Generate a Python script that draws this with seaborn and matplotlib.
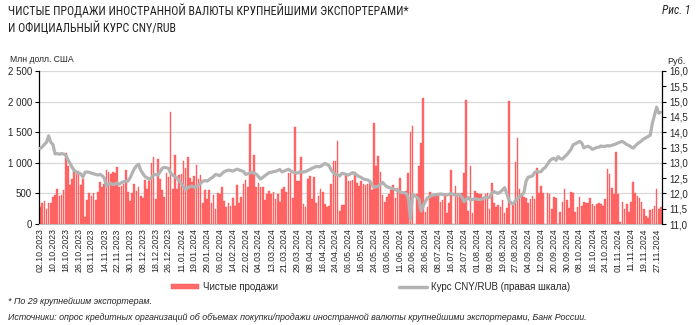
import numpy as np
import pandas as pd
import matplotlib
matplotlib.use("Agg")
import matplotlib.pyplot as plt
from matplotlib import font_manager
from matplotlib.patches import Patch
from matplotlib.lines import Line2D
from matplotlib.ticker import FuncFormatter, MultipleLocator
import seaborn as sns

# ---------------- data ----------------
SALES = [
    270, 340, 370, 240, 340, 350, 440, 480, 580, 460,
    470, 550, 1160, 940, 630, 740, 870, 850, 860, 640,
    740, 120, 400, 500, 460, 500, 400, 520, 690, 600,
    650, 880, 850, 820, 850, 840, 930, 600, 620, 650,
    880, 520, 380, 500, 650, 540, 600, 460, 430, 720,
    580, 700, 1000, 1100, 410, 1060, 730, 560, 440, 840,
    770, 1830, 580, 1120, 570, 800, 820, 1030, 910, 1090,
    750, 680, 790, 970, 730, 800, 340, 550, 410, 550,
    350, 470, 250, 510, 490, 610, 370, 280, 340, 300,
    420, 290, 630, 340, 440, 650, 720, 600, 1640, 870,
    1130, 610, 675, 600, 600, 390, 485, 545, 485, 530,
    405, 485, 355, 565, 610, 515, 830, 830, 420, 1580,
    700, 700, 1100, 330, 285, 730, 790, 415, 765, 350,
    460, 565, 515, 330, 285, 295, 650, 1030, 1030, 1360,
    220, 305, 315, 790, 710, 700, 720, 855, 665, 620,
    710, 655, 645, 650, 700, 555, 1650, 940, 1110, 855,
    475, 365, 445, 490, 555, 640, 420, 585, 745, 490,
    490, 540, 840, 1500, 1600, -20, 485, 955, 1320, 2060,
    200, 285, 530, 445, 490, 475, 490, 355, 390, 460,
    185, 350, 880, -40, 620, 500, 485, 500, 840, 2030,
    220, 950, 175, 545, 510, 490, 490, 420, 490, 510,
    240, 675, 350, 285, 310, 285, 390, 185, 265, 2010,
    -40, 340, 1020, 1410, 565, 490, 435, 420, 340, 405,
    460, 410, 920, 500, 620, 500, -20, 500, 490, 245,
    445, 420, -20, 195, 365, 565, 390, 265, 525, 510,
    200, 285, 435, 295, 365, 340, 340, 420, 325, 300,
    325, 340, 320, 300, 405, 900, 810, 585, 485, 1170,
    485, 30, 355, 245, 320, 190, 355, 690, 510, 460,
    420, 360, 250, 130, 100, 230, 250, 290, 580, 240, 270,
]

CNY_RUB = [
    13.47, 13.52, 13.60, 13.67, 13.88, 13.67, 13.60, 13.29, 13.30, 13.28,
    13.30, 13.29, 13.25, 13.10, 12.98, 12.85, 12.74, 12.70, 12.66, 12.64,
    12.53, 12.69, 12.70, 12.69, 12.66, 12.64, 12.62, 12.60, 12.62, 12.58,
    12.50, 12.24, 12.30, 12.33, 12.29, 12.30, 12.34, 12.30, 12.35, 12.38,
    12.40, 12.40, 12.50, 12.66, 12.80, 12.90, 12.95, 12.76, 12.65, 12.55,
    12.51, 12.46, 12.52, 12.60, 12.62, 12.60, 12.70, 12.82, 12.85, 12.84,
    12.82, 12.66, 12.60, 12.55, 12.50, 12.40, 12.33, 12.22, 12.13, 12.18,
    12.22, 12.24, 12.20, 12.22, 12.27, 12.33, 12.40, 12.42, 12.40, 12.45,
    12.50, 12.55, 12.62, 12.60, 12.58, 12.65, 12.71, 12.74, 12.76, 12.75,
    12.73, 12.76, 12.79, 12.77, 12.74, 12.72, 12.62, 12.64, 12.67, 12.69,
    12.66, 12.63, 12.55, 12.47, 12.52, 12.58, 12.63, 12.68, 12.69, 12.71,
    12.72, 12.75, 12.78, 12.70, 12.73, 12.76, 12.79, 12.74, 12.70, 12.68,
    12.66, 12.69, 12.71, 12.70, 12.71, 12.75, 12.78, 12.82, 12.85, 12.88,
    12.87, 12.88, 12.93, 12.98, 12.95, 12.90, 12.76, 12.68, 12.62, 12.60,
    12.57, 12.66, 12.64, 12.62, 12.60, 12.64, 12.68, 12.64, 12.60, 12.55,
    12.52, 12.47, 12.45, 12.44, 12.40, 12.30, 12.20, 12.22, 12.23, 12.30,
    12.36, 12.28, 12.22, 12.19, 12.17, 12.15, 12.12, 12.10, 12.05, 12.03,
    12.02, 12.00, 11.85, 11.15, 11.98, 11.92, 11.88, 11.80, 11.42, 11.60,
    11.75, 11.85, 11.90, 11.93, 11.95, 11.96, 11.97, 11.98, 11.97, 11.96,
    11.95, 11.97, 12.00, 11.97, 11.93, 11.96, 11.97, 11.88, 11.73, 11.80,
    11.87, 11.78, 11.80, 11.83, 11.81, 11.80, 11.80, 11.84, 11.87, 11.86,
    11.87, 12.02, 12.06, 12.02, 12.00, 12.05, 12.11, 12.19, 12.00, 11.78,
    11.68, 11.65, 11.76, 11.82, 11.90, 11.95, 12.02, 12.40, 12.53, 12.55,
    12.57, 12.68, 12.72, 12.70, 12.71, 12.80, 12.85, 12.95, 13.06, 13.12,
    13.15, 13.08, 13.20, 13.14, 13.12, 13.20, 13.26, 13.35, 13.44, 13.59,
    13.62, 13.66, 13.70, 13.65, 13.49, 13.52, 13.54, 13.50, 13.44, 13.47,
    13.50, 13.51, 13.55, 13.53, 13.54, 13.56, 13.55, 13.57, 13.59, 13.62,
    13.65, 13.68, 13.70, 13.65, 13.60, 13.57, 13.52, 13.48, 13.55, 13.62,
    13.67, 13.72, 13.78, 13.82, 13.86, 13.90, 14.29, 14.55, 14.82, 14.62, 14.65,
]

TICK_LABELS = [
    "02.10.2023", "10.10.2023", "18.10.2023", "26.10.2023", "03.11.2023",
    "14.11.2023", "22.11.2023", "30.11.2023", "08.12.2023", "18.12.2023",
    "26.12.2023", "11.01.2024", "19.01.2024", "29.01.2024", "06.02.2024",
    "14.02.2024", "22.02.2024", "04.03.2024", "13.03.2024", "21.03.2024",
    "29.03.2024", "08.04.2024", "16.04.2024", "24.04.2024", "06.05.2024",
    "16.05.2024", "24.05.2024", "03.06.2024", "11.06.2024", "20.06.2024",
    "28.06.2024", "08.07.2024", "16.07.2024", "24.07.2024", "01.08.2024",
    "09.08.2024", "19.08.2024", "27.08.2024", "04.09.2024", "12.09.2024",
    "20.09.2024", "30.09.2024", "08.10.2024", "16.10.2024", "24.10.2024",
    "01.11.2024", "11.11.2024", "19.11.2024", "27.11.2024",
]
TICK_EVERY = 6

TITLE_1 = "ЧИСТЫЕ ПРОДАЖИ ИНОСТРАННОЙ ВАЛЮТЫ КРУПНЕЙШИМИ ЭКСПОРТЕРАМИ*"
TITLE_2 = "И ОФИЦИАЛЬНЫЙ КУРС CNY/RUB"
FIG_NO = "Рис. 1"
LEFT_UNIT = "Млн долл. США"
RIGHT_UNIT = "Руб."
LEG_BARS = "Чистые продажи"
LEG_LINE = "Курс CNY/RUB (правая шкала)"
NOTE_1 = "* По 29 крупнейшим экспортерам."
NOTE_2 = ("Источники: опрос кредитных организаций об объемах покупки/продажи "
          "иностранной валюты крупнейшими экспортерами, Банк России.")

# ---------------- style ----------------
sns.set_theme(style="white")
plt.rcParams["font.family"] = ["Liberation Sans", "DejaVu Sans"]
plt.rcParams["axes.unicode_minus"] = False

# look for an installed narrow / condensed family for the title
names = sorted({f.name for f in font_manager.fontManager.ttflist})
narrow = None
for cand in ["Liberation Sans Narrow", "Arial Narrow", "Roboto Condensed",
             "Open Sans Condensed", "Noto Sans Condensed", "DejaVu Sans Condensed"]:
    if cand in names:
        narrow = cand
        break
title_font = [narrow, "DejaVu Sans"] if narrow else ["Liberation Sans", "DejaVu Sans"]

BAR_COLOR = "#ff6b6b"
BAR_EDGE = "#ff4a4a"
LINE_COLOR = "#b3b3b3"
GRID_COLOR = "#d9d9d9"

n = len(SALES)
pos = np.arange(n)
df = pd.DataFrame({"pos": pos, "sales": SALES, "cny": CNY_RUB})

fig = plt.figure(figsize=(7.0, 3.25), dpi=100)
W, H = 700, 325
ax = fig.add_axes([39 / W, 1 - 224 / H, (662 - 39) / W, (224 - 71) / H])

sns.barplot(data=df, x="pos", y="sales", ax=ax, native_scale=True,
            color=BAR_COLOR, width=0.78, errorbar=None, saturation=1,
            edgecolor=BAR_EDGE, linewidth=0.25, zorder=2)

ax.set_ylim(0, 2500)
ax.set_xlim(-0.5, n - 0.5)
ax.yaxis.set_major_locator(MultipleLocator(500))
ax.yaxis.set_major_formatter(FuncFormatter(lambda v, p: f"{int(v):,}".replace(",", " ")))
ax.grid(axis="y", color=GRID_COLOR, linewidth=0.9, zorder=0)
ax.set_axisbelow(True)
ax.set_xlabel("")
ax.set_ylabel("")

ax.set_xticks(np.arange(0, len(TICK_LABELS) * TICK_EVERY, TICK_EVERY))
ax.set_xticklabels(TICK_LABELS, rotation=90, fontsize=6.3)
ax.tick_params(axis="x", length=0, pad=3)
ax.tick_params(axis="y", labelsize=7, length=3, width=0.8, color="black",
               direction="out", left=True, pad=2)

for s in ["top", "right"]:
    ax.spines[s].set_visible(False)
ax.spines["left"].set_color("black")
ax.spines["left"].set_linewidth(0.9)
ax.spines["bottom"].set_color("#bfbfbf")
ax.spines["bottom"].set_linewidth(0.8)

ax2 = ax.twinx()
sns.lineplot(data=df, x="pos", y="cny", ax=ax2, color=LINE_COLOR,
             linewidth=2.3, zorder=3)
ax2.set_ylim(11, 16)
ax2.set_xlim(-0.5, n - 0.5)
ax2.yaxis.set_major_locator(MultipleLocator(0.5))
ax2.yaxis.set_major_formatter(FuncFormatter(lambda v, p: f"{v:.1f}".replace(".", ",")))
ax2.tick_params(axis="y", labelsize=7, length=3, width=0.8, color="black",
                direction="out", right=True, pad=2)
ax2.set_ylabel("")
ax2.set_xlabel("")
for s in ["top", "left", "bottom"]:
    ax2.spines[s].set_visible(False)
ax2.spines["right"].set_color("black")
ax2.spines["right"].set_linewidth(0.9)
ax2.grid(False)

# ---------------- texts ----------------
title_size = 8.6 if narrow else 7.0
fig.text(8 / W, 1 - 11 / H, TITLE_1, fontsize=title_size, family=title_font,
         ha="left", va="center", color="#222222")
fig.text(8 / W, 1 - 28 / H, TITLE_2, fontsize=title_size, family=title_font,
         ha="left", va="center", color="#222222")
fig.text(690 / W, 1 - 11 / H, FIG_NO, fontsize=8.4, family=title_font,
         style="italic", ha="right", va="center", color="#222222")

fig.text(10 / W, 1 - 60 / H, LEFT_UNIT, fontsize=6.2, ha="left", va="center")
fig.text(667 / W, 1 - 61 / H, RIGHT_UNIT, fontsize=6.5, ha="left", va="center")

handles = [Patch(facecolor=BAR_COLOR, edgecolor=BAR_EDGE, linewidth=0.3),
           Line2D([0], [0], color=LINE_COLOR, linewidth=2.5)]
fig.legend(handles, [LEG_BARS, LEG_LINE], loc="center left",
           bbox_to_anchor=(171 / W, 1 - 287 / H), ncol=2, frameon=False,
           fontsize=7, handlelength=2.9, handleheight=0.55, handletextpad=0.35,
           columnspacing=12.5, borderpad=0, borderaxespad=0)

fig.text(8 / W, 1 - 302 / H, NOTE_1, fontsize=6.4, style="italic",
         ha="left", va="center")
fig.text(8 / W, 1 - 317 / H, NOTE_2, fontsize=6.4, style="italic",
         ha="left", va="center")

fig.savefig("out.png", dpi=100)
